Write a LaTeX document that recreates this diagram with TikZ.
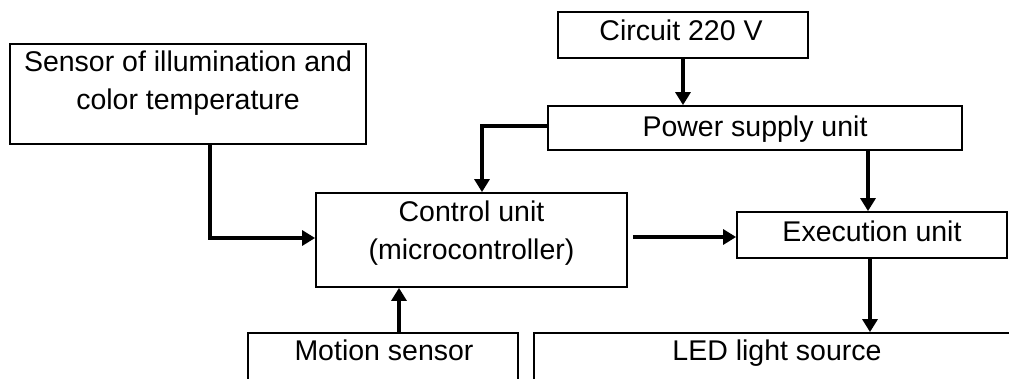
\documentclass[tikz,border=0pt]{standalone}
\usepackage{fontspec}
\setmainfont{Liberation Sans}
\usetikzlibrary{arrows.meta}
\begin{document}
\begin{tikzpicture}[x=1pt,y=-1pt,
  box/.style={draw=black,line width=1.8pt,rectangle,inner sep=0pt,fill=none},
  txt/.style={inner sep=0pt,anchor=base,align=center,font=\fontsize{28.5}{38}\selectfont},
  conn/.style={line width=3.2pt,-{Triangle[length=13pt,width=15pt]}}]
\useasboundingbox (0,0) rectangle (1009,378);
\clip (0,0) rectangle (1009,378);
% boxes
\node[box,minimum width=356pt,minimum height=100pt] (sensor) at (188,94) {};
\node[box,minimum width=250pt,minimum height=46pt] (circuit) at (683,35) {};
\node[box,minimum width=414pt,minimum height=44pt] (power) at (755,128) {};
\node[box,minimum width=311pt,minimum height=94pt] (control) at (471.5,240) {};
\node[box,minimum width=270pt,minimum height=46pt] (exec) at (872,235) {};
\node[box,minimum width=270pt,minimum height=80pt] (motion) at (383,373) {};
\node[box,minimum width=486pt,minimum height=80pt] (led) at (777,373) {};
% texts
\node[txt] (sensortxt) at (188,109) {Sensor of illumination and\\color temperature};
\node[txt] (circuittxt) at (681,40) {Circuit 220 V};
\node[txt] (powertxt) at (755,136) {Power supply unit};
\node[txt] (controltxt) at (471.5,259) {Control unit\\(microcontroller)};
\node[txt] (exectxt) at (872,241) {Execution unit};
\node[txt] (motiontxt) at (384,360) {Motion sensor};
\node[txt] (ledtxt) at (777,360) {LED light source};
% connectors
\coordinate (c1) at (210,238);
\coordinate (c2) at (482,126);
\draw[conn] (sensor.south -| c1) -- (c1) -- (control.west |- c1);
\draw[conn] (power.west |- c2) -- (c2) -- (control.north -| c2);
\draw[conn] (circuit.south) -- (circuit.south |- power.north);
\draw[conn] (power.south -| 868,0) -- (exec.north -| 868,0);
\draw[conn,shorten <=5pt] (control.east |- 0,237) -- (exec.west |- 0,237);
\draw[conn] (exec.south -| 870,0) -- (led.north -| 870,0);
\draw[conn] (motion.north -| 399,0) -- (control.south -| 399,0);
\end{tikzpicture}
\end{document}
